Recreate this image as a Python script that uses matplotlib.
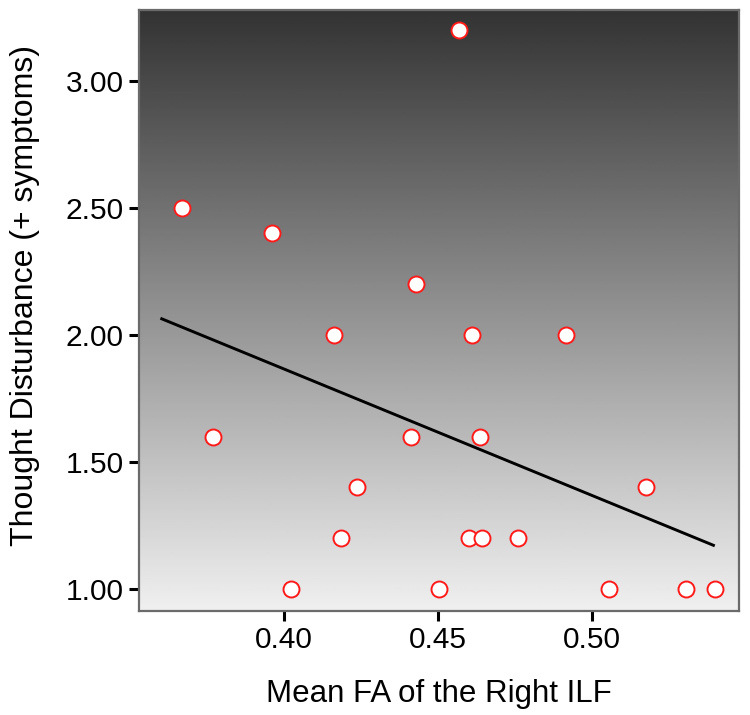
import matplotlib
matplotlib.use("Agg")
import matplotlib.pyplot as plt
import numpy as np

plt.rcParams["font.family"] = ["Liberation Sans", "DejaVu Sans"]

# mean FA of the right ILF and thought disturbance score per subject
fa_right_ilf = [
    0.4569, 0.3668, 0.3960, 0.4427, 0.4163, 0.4610, 0.4915,
    0.3770, 0.4412, 0.4637, 0.4236, 0.5176,
    0.4185, 0.4602, 0.4643, 0.4758,
    0.4021, 0.4502, 0.5056, 0.5306, 0.5400,
]
thought_disturbance = [
    3.20, 2.50, 2.40, 2.20, 2.00, 2.00, 2.00,
    1.60, 1.60, 1.60, 1.40, 1.40,
    1.20, 1.20, 1.20, 1.20,
    1.00, 1.00, 1.00, 1.00, 1.00,
]
x_ticks = [0.40, 0.45, 0.50]
y_ticks = [1.00, 1.50, 2.00, 2.50, 3.00]

x = np.array(fa_right_ilf)
y = np.array(thought_disturbance)

fig = plt.figure(figsize=(7.5, 7.15), dpi=100)
ax = fig.add_axes([0.1853, 0.1455, 0.8, 0.8406])
ax.set_xlim(0.3529, 0.5477)
ax.set_ylim(0.9134, 3.2795)

# vertical grey gradient behind the points
gradient = np.linspace(0.94, 0.20, 256).reshape(-1, 1)
ax.imshow(
    gradient,
    cmap="gray",
    vmin=0.0,
    vmax=1.0,
    aspect="auto",
    origin="lower",
    extent=(0, 1, 0, 1),
    transform=ax.transAxes,
    zorder=0,
)

slope, intercept = np.polyfit(x, y, 1)
line_x = np.array([0.3603, 0.5394])
ax.plot(line_x, intercept + slope * line_x, color="black", linewidth=2.1, zorder=2)

ax.plot(
    x,
    y,
    linestyle="none",
    marker="o",
    markersize=11.5,
    markerfacecolor="white",
    markeredgecolor="#ff1a1a",
    markeredgewidth=1.4,
    zorder=3,
)

ax.set_xticks(x_ticks)
ax.set_xticklabels([f"{v:.2f}" for v in x_ticks])
ax.set_yticks(y_ticks)
ax.set_yticklabels([f"{v:.2f}" for v in y_ticks])
ax.tick_params(axis="both", direction="out", length=7, width=2.2, color="black",
               labelsize=21.5, pad=4)

for spine in ax.spines.values():
    spine.set_color("#6a6a6a")
    spine.set_linewidth(1.6)

ax.set_xlabel("Mean FA of the Right ILF", fontsize=22.5, labelpad=18)
ax.set_ylabel("Thought Disturbance (+ symptoms)", fontsize=23)
ax.yaxis.set_label_coords(-0.165, 0.525)

fig.savefig("out.png", dpi=100)
